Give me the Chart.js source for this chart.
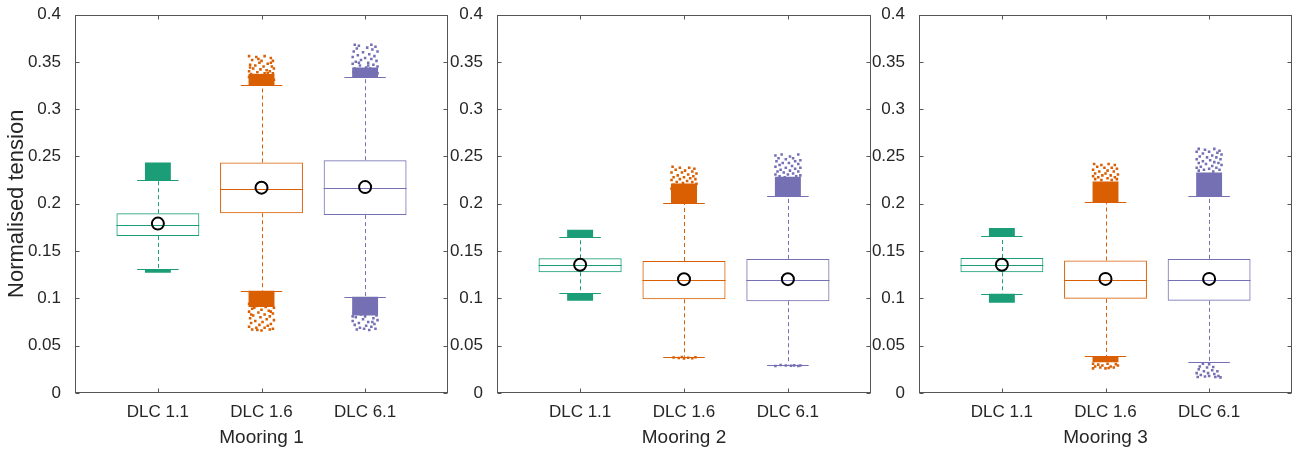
<!DOCTYPE html>
<html>
<head>
<meta charset="utf-8">
<script src="https://cdn.jsdelivr.net/npm/chart.js@4.4.1/dist/chart.umd.min.js"></script>
<style>
  html, body { margin: 0; padding: 0; background: #fff; overflow: hidden; }
  #wrap { position: relative; width: 1299px; height: 449px; overflow: hidden; }
  .panel { position: absolute; top: 0; height: 449px; }
</style>
</head>
<body>
<div id="wrap">
  <div class="panel" style="left:0;width:456px"><canvas id="p0"></canvas></div>
  <div class="panel" style="left:448px;width:431px"><canvas id="p1"></canvas></div>
  <div class="panel" style="left:870px;width:430px"><canvas id="p2"></canvas></div>
</div>
<script>
const categories = ["DLC 1.1", "DLC 1.6", "DLC 6.1"];
const moorings = ["Mooring 1", "Mooring 2", "Mooring 3"];
const colors = ["#1b9e77", "#d95f02", "#7570b3"];
const yTicks = [0, 0.05, 0.1, 0.15, 0.2, 0.25, 0.3, 0.35, 0.4];

// box statistics, [mooring][category]
const q1 = [[0.166, 0.190, 0.188], [0.1276, 0.099, 0.097], [0.1276, 0.0995, 0.0974]];
const q3 = [[0.190, 0.2436, 0.246], [0.1424, 0.1395, 0.1417], [0.1427, 0.140, 0.1417]];
const medians = [[0.178, 0.216, 0.2165], [0.1357, 0.119, 0.119], [0.135, 0.1195, 0.1195]];
const means = [[0.179, 0.217, 0.2176], [0.1355, 0.1203, 0.1203], [0.1355, 0.1206, 0.1206]];
const whiskerLo = [[0.131, 0.108, 0.1016], [0.1058, 0.0383, 0.030], [0.105, 0.0387, 0.0327]];
const whiskerHi = [[0.225, 0.3255, 0.3336], [0.1645, 0.2007, 0.208], [0.166, 0.2014, 0.208]];

// dense parts of the outlier clouds [low, high]
const coreHi = [
  [[0.225, 0.2435], [0.3255, 0.337], [0.334, 0.344]],
  [[0.1645, 0.1725], [0.2007, 0.2215], [0.208, 0.2285]],
  [[0.166, 0.1745], [0.2014, 0.2235], [0.208, 0.233]]
];
const coreLo = [
  [[0.1272, 0.1305], [0.091, 0.108], [0.082, 0.1016]],
  [[0.0975, 0.1058], null, null],
  [[0.0955, 0.105], [0.0325, 0.0387], null]
];

// scattered outliers [x offset, value]
const outHi = [
  [
    [],
    [[-0.12,0.356],[-0.05,0.355],[0.03,0.356],[0.09,0.354],[-0.09,0.352],[0.0,0.351],[0.11,0.351],[-0.02,0.349],[0.06,0.348],[-0.11,0.347],[-0.06,0.346],[0.02,0.345],[0.1,0.345],[0.12,0.343],[-0.08,0.343],[-0.01,0.342],[0.05,0.341],[-0.12,0.340],[0.08,0.340],[-0.04,0.339],[0.03,0.338],[0.11,0.338],[-0.1,0.337],[-0.07,0.336],[0.0,0.336],[0.07,0.335],[-0.12,0.334],[-0.03,0.334],[0.04,0.333],[0.1,0.333],[-0.09,0.332],[0.12,0.331],[-0.05,0.331],[0.01,0.330],[0.06,0.338],[-0.11,0.344],[0.09,0.349],[-0.03,0.353]],
    [[-0.1,0.368],[-0.06,0.367],[0.06,0.368],[0.1,0.366],[-0.08,0.364],[0.02,0.365],[0.07,0.363],[-0.11,0.361],[0.12,0.361],[-0.02,0.360],[0.04,0.358],[-0.07,0.357],[0.09,0.356],[-0.12,0.355],[0.0,0.354],[0.06,0.353],[-0.04,0.352],[0.11,0.351],[-0.09,0.350],[0.03,0.349],[-0.12,0.348],[0.08,0.347],[-0.05,0.346],[0.12,0.345],[0.01,0.344],[-0.1,0.343],[0.05,0.343],[-0.03,0.342],[0.1,0.342],[-0.08,0.341],[0.07,0.340],[-0.01,0.339],[-0.11,0.339],[0.12,0.338],[0.03,0.346],[-0.06,0.349]]
  ],
  [
    [],
    [[-0.11,0.239],[-0.04,0.238],[0.05,0.238],[0.1,0.237],[-0.08,0.236],[0.01,0.235],[0.08,0.234],[-0.12,0.233],[-0.02,0.233],[0.12,0.232],[0.04,0.231],[-0.06,0.230],[0.09,0.229],[-0.1,0.228],[0.0,0.228],[0.06,0.227],[-0.04,0.226],[0.11,0.226],[-0.12,0.225],[0.03,0.224],[-0.07,0.223],[0.08,0.223],[-0.01,0.222],[0.12,0.221],[-0.1,0.220],[0.05,0.219],[-0.05,0.218],[0.1,0.217],[-0.12,0.216],[0.02,0.215]],
    [[-0.12,0.251],[-0.06,0.252],[0.02,0.250],[0.1,0.252],[-0.09,0.248],[0.05,0.248],[-0.02,0.247],[0.12,0.246],[-0.11,0.245],[0.07,0.245],[-0.05,0.243],[0.01,0.243],[0.1,0.242],[-0.08,0.241],[0.04,0.240],[-0.12,0.239],[0.12,0.238],[-0.02,0.238],[0.07,0.237],[-0.07,0.236],[0.02,0.235],[-0.1,0.234],[0.1,0.234],[-0.04,0.233],[0.05,0.232],[-0.12,0.231],[0.0,0.231],[0.12,0.230],[-0.08,0.229],[0.08,0.229],[-0.03,0.228],[0.03,0.227]]
  ],
  [
    [],
    [[-0.11,0.242],[-0.04,0.241],[0.03,0.242],[0.09,0.241],[-0.08,0.239],[0.06,0.238],[-0.01,0.238],[0.11,0.237],[-0.12,0.236],[0.02,0.235],[-0.06,0.234],[0.08,0.234],[-0.1,0.232],[0.0,0.232],[0.12,0.231],[0.05,0.230],[-0.03,0.230],[-0.12,0.229],[0.09,0.228],[-0.07,0.228],[0.02,0.227],[-0.1,0.226],[0.11,0.226],[-0.04,0.225],[0.06,0.225]],
    [[-0.1,0.258],[-0.04,0.257],[0.05,0.258],[0.1,0.256],[-0.12,0.255],[0.0,0.255],[0.08,0.254],[-0.06,0.253],[0.12,0.252],[0.03,0.251],[-0.09,0.250],[-0.02,0.249],[0.07,0.249],[-0.12,0.247],[0.11,0.247],[0.01,0.246],[-0.06,0.245],[0.05,0.244],[-0.1,0.243],[0.09,0.243],[-0.03,0.242],[0.12,0.241],[0.03,0.240],[-0.08,0.239],[-0.12,0.238],[0.07,0.238],[0.0,0.237],[-0.05,0.236],[0.1,0.236],[-0.1,0.235],[0.04,0.234]]
  ]
];
const outLo = [
  [
    [],
    [[-0.12,0.094],[0.1,0.093],[-0.05,0.092],[0.04,0.091],[0.12,0.090],[-0.09,0.089],[0.0,0.088],[0.07,0.087],[-0.12,0.086],[-0.03,0.085],[0.11,0.084],[0.03,0.083],[-0.08,0.082],[0.08,0.081],[-0.01,0.080],[-0.11,0.079],[0.05,0.078],[0.12,0.077],[-0.06,0.076],[0.01,0.075],[-0.1,0.074],[0.09,0.073],[-0.02,0.072],[0.06,0.071],[-0.12,0.070],[-0.05,0.069],[0.03,0.069],[0.11,0.068],[-0.09,0.067],[0.08,0.067],[0.0,0.066],[-0.04,0.0665],[0.04,0.093],[-0.07,0.09],[0.09,0.086],[-0.1,0.083]],
    [[-0.11,0.085],[0.05,0.084],[-0.04,0.083],[0.11,0.082],[0.0,0.081],[-0.09,0.080],[0.08,0.079],[-0.02,0.078],[0.12,0.077],[-0.12,0.076],[0.03,0.075],[-0.06,0.074],[0.09,0.073],[-0.1,0.072],[0.01,0.071],[0.06,0.070],[-0.05,0.069],[0.1,0.068],[-0.08,0.067],[0.04,0.0665],[-0.01,0.068],[0.07,0.075],[-0.12,0.081]]
  ],
  [
    [],
    [[-0.1,0.0375],[-0.05,0.037],[0.0,0.0365],[0.04,0.0372],[0.08,0.0368],[0.11,0.0378],[-0.02,0.038]],
    [[-0.12,0.0285],[-0.07,0.0295],[-0.02,0.029],[0.03,0.0288],[0.06,0.0292],[0.1,0.0285],[0.12,0.029]]
  ],
  [
    [],
    [[-0.12,0.031],[-0.07,0.030],[0.02,0.031],[0.1,0.0305],[-0.1,0.028],[-0.03,0.029],[0.05,0.028],[0.12,0.029],[-0.12,0.026],[-0.05,0.027],[0.0,0.026],[0.08,0.027],[0.03,0.0265]],
    [[-0.06,0.031],[0.0,0.0305],[-0.09,0.028],[-0.02,0.027],[0.04,0.0275],[-0.1,0.025],[0.03,0.024],[-0.05,0.023],[0.08,0.023],[-0.12,0.021],[-0.01,0.021],[0.05,0.020],[-0.08,0.019],[0.0,0.018],[0.09,0.018],[-0.11,0.017],[-0.04,0.0175],[0.11,0.0165],[0.06,0.017]]
  ]
];

const textColor = "#262626";
const fontFamily = "'Liberation Sans', Arial, sans-serif";

// whiskers, caps and medians drawn after the boxes
const boxDecor = {
  id: "boxDecor",
  afterDatasetDraw(chart, args) {
    if (args.meta.label !== "box") return;
    const p = chart.options.plugins.boxDecor.panel;
    const xs = chart.scales.x, ys = chart.scales.y;
    const ctx = chart.ctx;
    ctx.save();
    ctx.lineWidth = 1;
    for (let c = 0; c < categories.length; c++) {
      const xc = Math.round(xs.getPixelForValue(c + 1)) + 0.5;
      ctx.strokeStyle = colors[c];
      ctx.setLineDash([4, 3]);
      ctx.beginPath();
      ctx.moveTo(xc, ys.getPixelForValue(q3[p][c]));
      ctx.lineTo(xc, ys.getPixelForValue(whiskerHi[p][c]));
      ctx.moveTo(xc, ys.getPixelForValue(q1[p][c]));
      ctx.lineTo(xc, ys.getPixelForValue(whiskerLo[p][c]));
      ctx.stroke();
      ctx.setLineDash([]);
      ctx.beginPath();
      [whiskerHi[p][c], whiskerLo[p][c]].forEach(v => {
        const y = Math.round(ys.getPixelForValue(v)) + 0.5;
        ctx.moveTo(xs.getPixelForValue(c + 0.8), y);
        ctx.lineTo(xs.getPixelForValue(c + 1.2), y);
      });
      const ym = Math.round(ys.getPixelForValue(medians[p][c])) + 0.5;
      ctx.moveTo(xs.getPixelForValue(c + 0.6), ym);
      ctx.lineTo(xs.getPixelForValue(c + 1.4), ym);
      ctx.stroke();
    }
    ctx.restore();
  },
  afterDraw(chart) {
    const a = chart.chartArea;
    const xs = chart.scales.x, ys = chart.scales.y;
    const ctx = chart.ctx;
    const L = Math.round(a.left) + 0.5, R = Math.round(a.right) - 0.5;
    const T = Math.round(a.top) + 0.5, B = Math.round(a.bottom) - 0.5;
    ctx.save();
    ctx.strokeStyle = "#555555";
    ctx.lineWidth = 1;
    ctx.strokeRect(L, T, R - L, B - T);
    ctx.beginPath();
    yTicks.forEach(v => {
      const y = Math.round(ys.getPixelForValue(v)) + 0.5;
      ctx.moveTo(L, y); ctx.lineTo(L + 4, y);
      ctx.moveTo(R, y); ctx.lineTo(R - 4, y);
    });
    categories.forEach((_, c) => {
      const x = Math.round(xs.getPixelForValue(c + 1)) + 0.5;
      ctx.moveTo(x, T); ctx.lineTo(x, T + 4);
      ctx.moveTo(x, B); ctx.lineTo(x, B - 4);
    });
    ctx.stroke();
    ctx.restore();
  }
};

function buildPanel(p) {
  const datasets = [];
  datasets.push({
    type: "scatter",
    label: "mean",
    data: means[p].map((v, c) => ({ x: c + 1, y: v })),
    pointRadius: 6,
    pointBorderWidth: 2,
    borderColor: "#000",
    backgroundColor: "rgba(0,0,0,0)",
    order: 0
  });
  datasets.push({
    type: "bar",
    label: "box",
    data: q1[p].map((v, c) => ({ x: c + 1, y: [v, q3[p][c]] })),
    borderColor: colors,
    backgroundColor: "rgba(255,255,255,0)",
    borderWidth: 1,
    borderSkipped: false,
    barPercentage: 0.8,
    categoryPercentage: 1,
    grouped: false,
    order: 1
  });
  categories.forEach((_, c) => {
    const pts = outHi[p][c].concat(outLo[p][c]);
    if (!pts.length) return;
    datasets.push({
      type: "scatter",
      label: "outliers " + categories[c],
      data: pts.map(d => ({ x: c + 1 + d[0], y: d[1] })),
      pointStyle: "rect",
      pointRadius: 1.8,
      pointBorderWidth: 0,
      backgroundColor: colors[c],
      borderColor: colors[c],
      order: 2
    });
  });
  [coreHi, coreLo].forEach((core, k) => {
    const data = [];
    core[p].forEach((r, c) => { if (r) data.push({ x: c + 1, y: r }); });
    datasets.push({
      type: "bar",
      label: "core" + k,
      data: data,
      backgroundColor: data.map(d => colors[d.x - 1]),
      borderWidth: 0,
      barPercentage: 0.25,
      categoryPercentage: 1,
      grouped: false,
      order: 3
    });
  });

  return new Chart(document.getElementById("p" + p), {
    data: { datasets: datasets },
    options: {
      responsive: true,
      maintainAspectRatio: false,
      animation: false,
      layout: { padding: { top: 13, right: 0, bottom: 0, left: 0 } },
      plugins: {
        legend: { display: false },
        tooltip: { enabled: false },
        boxDecor: { panel: p }
      },
      scales: {
        x: {
          type: "linear",
          min: 0.2,
          max: 3.8,
          offset: false,
          afterBuildTicks: s => { s.ticks = categories.map((_, c) => ({ value: c + 1 })); },
          afterFit: s => { s.height = 56; },
          grid: { display: false, offset: false },
          border: { display: false },
          ticks: {
            autoSkip: false,
            maxRotation: 0,
            padding: 1,
            color: textColor,
            font: { family: fontFamily, size: 17 },
            callback: v => categories[v - 1]
          },
          title: {
            display: true,
            text: moorings[p],
            color: textColor,
            font: { family: fontFamily, size: 19 },
            padding: { top: 2, bottom: 0 }
          }
        },
        y: {
          min: 0,
          max: 0.4,
          afterBuildTicks: s => { s.ticks = yTicks.map(v => ({ value: v })); },
          afterFit: s => { s.width = p === 0 ? 75 : 49; },
          grid: { display: false },
          border: { display: false },
          ticks: {
            padding: 6,
            color: textColor,
            font: { family: fontFamily, size: 17, lineHeight: 1 },
            callback: v => String(+v.toFixed(2))
          },
          title: {
            display: p === 0,
            text: "Normalised tension",
            color: textColor,
            font: { family: fontFamily, size: 22 },
            padding: { top: 4, bottom: 0 }
          }
        }
      }
    },
    plugins: [boxDecor]
  });
}

[0, 1, 2].forEach(buildPanel);
</script>
</body>
</html>
